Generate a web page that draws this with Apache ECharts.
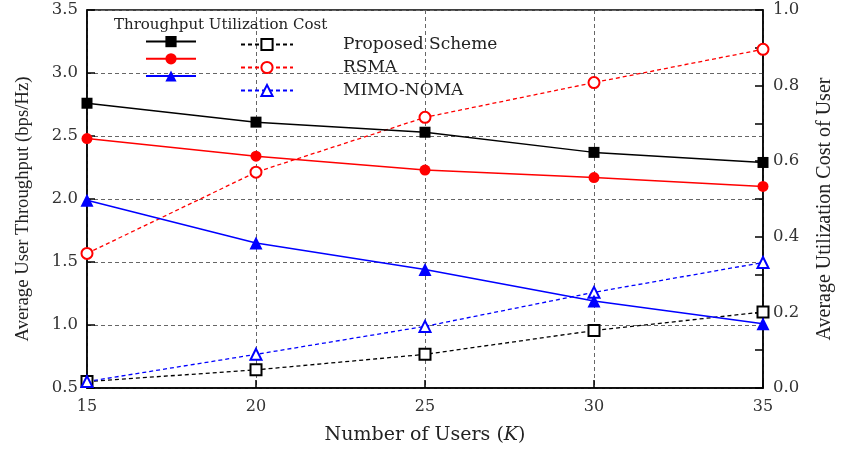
<!DOCTYPE html>
<html><head><meta charset="utf-8">
<script src="https://cdn.jsdelivr.net/npm/echarts@6/dist/echarts.min.js"></script>
<style>html,body{margin:0;padding:0;background:#fff}#c{width:843px;height:450px}</style>
</head><body><div id="c"></div>
<script>
const users = [15, 20, 25, 30, 35];
const schemes = ['Proposed Scheme', 'RSMA', 'MIMO-NOMA'];
const throughputProposed = [2.76, 2.61, 2.53, 2.37, 2.29];
const throughputRSMA = [2.48, 2.34, 2.23, 2.17, 2.10];
const throughputMIMO = [1.99, 1.65, 1.44, 1.19, 1.01];
const costProposed = [0.017, 0.048, 0.089, 0.152, 0.201];
const costRSMA = [0.356, 0.571, 0.716, 0.808, 0.896];
const costMIMO = [0.017, 0.089, 0.163, 0.253, 0.332];
const leftTicks = ['0.5','1.0','1.5','2.0','2.5','3.0','3.5'];
const rightTicks = ['0.0','0.2','0.4','0.6','0.8','1.0'];

const colors = ['#000000', '#ff0000', '#0000ff'];
const tp = [throughputProposed, throughputRSMA, throughputMIMO];
const cs = [costProposed, costRSMA, costMIMO];
const filled = ['rect', 'circle', 'triangle'];
const empty = ['emptyRect', 'emptyCircle', 'emptyTriangle'];
const FONT = 'DejaVu Serif';
const VFONT = 'Liberation Serif';

const series = [];
schemes.forEach((s, i) => {
  series.push({
    name: 'T:' + s, type: 'line', yAxisIndex: 0,
    data: users.map((u, k) => [u, tp[i][k]]),
    symbol: filled[i], symbolSize: i === 2 ? 13 : 11,
    itemStyle: {color: colors[i]},
    lineStyle: {color: colors[i], width: 1.5, type: 'solid'},
    z: 5
  });
});
schemes.forEach((s, i) => {
  series.push({
    name: 'C:' + s, type: 'line', yAxisIndex: 1,
    data: users.map((u, k) => [u, cs[i][k]]),
    symbol: empty[i], symbolSize: 11,
    itemStyle: {color: colors[i], borderWidth: 1.3},
    lineStyle: {color: colors[i], width: 1.3, type: [4, 3]},
    z: 4
  });
});

const chart = echarts.init(document.getElementById('c'), null, {renderer: 'canvas'});
chart.setOption({
  backgroundColor: '#fff',
  animation: false,
  textStyle: {fontFamily: FONT},
  title: {
    text: 'Throughput Utilization Cost', left: 114, top: 18, padding: 0,
    textStyle: {fontFamily: FONT, fontSize: 15, fontWeight: 'normal', color: '#222'}
  },
  legend: [
    {
      data: schemes.map(s => 'T:' + s), orient: 'vertical', left: 145, top: 36, padding: 0,
      itemWidth: 50, itemHeight: 14, itemGap: 6,
      formatter: () => '', textStyle: {fontSize: 1, lineHeight: 14}, selectedMode: false
    },
    {
      data: schemes.map(s => 'C:' + s), orient: 'vertical', left: 240, top: 36, padding: 0,
      itemWidth: 52, itemHeight: 14, itemGap: 6, selectedMode: false,
      formatter: n => n.slice(2),
      textStyle: {fontFamily: FONT, fontSize: 17, lineHeight: 14, color: '#222', padding: [0, 0, 0, 45]}
    }
  ],
  grid: {left: 87, right: 76, top: 10, bottom: 61, show: true, borderColor: '#000', borderWidth: 1.5},
  xAxis: {
    type: 'value', min: 15, max: 35, interval: 5,
    name: '{a|Number of Users (}{b|K}{a|)}', nameLocation: 'middle', nameGap: 38,
    nameTextStyle: {rich: {a: {fontFamily: FONT, fontSize: 19, color: '#222'}, b: {fontFamily: FONT, fontSize: 19, fontStyle: 'italic', color: '#222'}}},
    axisLine: {lineStyle: {color: '#000', width: 1.5}},
    axisTick: {inside: true, length: 8, lineStyle: {color: '#000', width: 1.5}},
    axisLabel: {fontFamily: FONT, fontSize: 16, color: '#333', margin: 11},
    splitLine: {show: true, lineStyle: {color: '#666', type: [4, 3], width: 1}}
  },
  yAxis: [
    {
      type: 'value', min: 0.5, max: 3.5, interval: 0.5, position: 'left',
      name: 'Average User Throughput (bps/Hz)', nameLocation: 'middle', nameGap: 54, nameRotate: 90,
      nameTextStyle: {fontFamily: VFONT, fontSize: 18.7, color: '#222', padding: [0, 20, 0, 0]},
      axisLine: {show: true, lineStyle: {color: '#000', width: 1.5}},
      axisTick: {show: true, inside: true, length: 8, lineStyle: {color: '#000', width: 1.5}},
      axisLabel: {fontFamily: FONT, fontSize: 16.5, color: '#333', margin: 9,
        formatter: (v) => leftTicks[Math.round((v - 0.5) / 0.5)]},
      splitLine: {show: true, lineStyle: {color: '#666', type: [4, 3], width: 1}}
    },
    {
      type: 'value', min: 0, max: 1, interval: 0.2, position: 'right',
      name: 'Average Utilization Cost of User', nameLocation: 'middle', nameGap: 52, nameRotate: 90,
      nameTextStyle: {fontFamily: VFONT, fontSize: 20, color: '#222', padding: [0, 20, 0, 0]},
      axisLine: {show: true, lineStyle: {color: '#000', width: 1.5}},
      axisTick: {show: true, inside: true, length: 8, lineStyle: {color: '#000', width: 1.5}},
      minorTick: {show: true, splitNumber: 2, length: 8, lineStyle: {color: '#000', width: 1.5}},
      axisLabel: {fontFamily: FONT, fontSize: 16.5, color: '#333', margin: 10,
        formatter: (v) => rightTicks[Math.round(v / 0.2)]},
      splitLine: {show: false}
    }
  ],
  series: series
});
</script></body></html>
